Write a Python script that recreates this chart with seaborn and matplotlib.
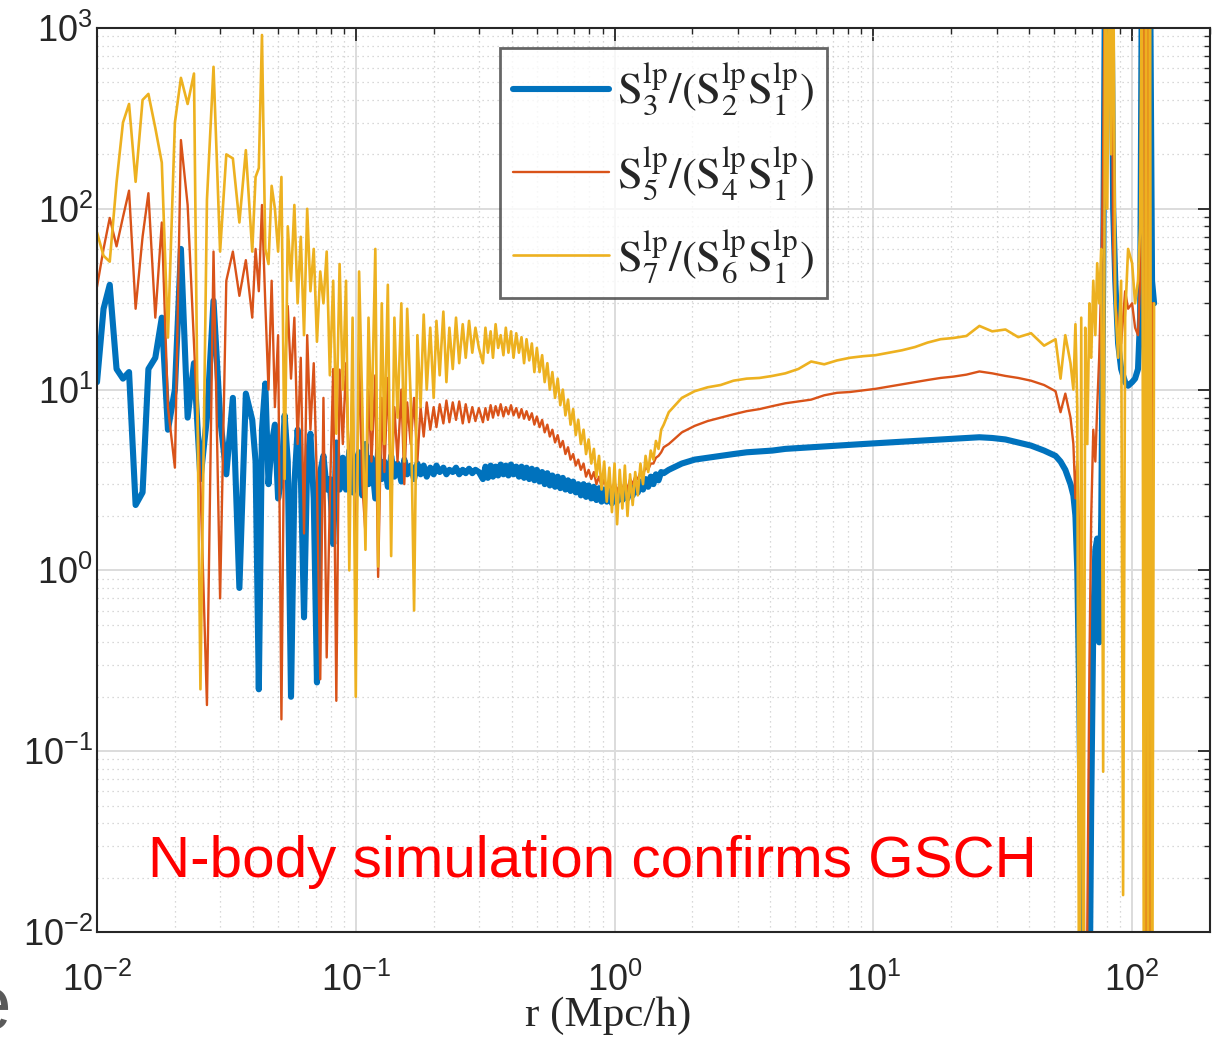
import matplotlib
matplotlib.use("Agg")
import matplotlib.pyplot as plt
from matplotlib.font_manager import FontProperties
from matplotlib.ticker import LogLocator, LogFormatterSciNotation, NullFormatter
import pandas as pd
import seaborn as sns

# ---------------- data ----------------
r_values = [
    # 0.01 - 0.04
    0.0100, 0.0106, 0.0112, 0.0119, 0.0126, 0.0133, 0.0141, 0.0150, 0.0158, 0.0168,
    0.0178, 0.0188, 0.0200, 0.0211, 0.0224, 0.0237, 0.0251, 0.0266, 0.0282, 0.0299,
    0.0316, 0.0335, 0.0355, 0.0376,
    # 0.04 - 0.1
    0.0398, 0.0410, 0.0422, 0.0434, 0.0447, 0.0460, 0.0473, 0.0487, 0.0501, 0.0516,
    0.0531, 0.0546, 0.0562, 0.0579, 0.0596, 0.0613, 0.0631, 0.0649, 0.0668, 0.0688,
    0.0708, 0.0729, 0.0750, 0.0772, 0.0794, 0.0818, 0.0841, 0.0866, 0.0891, 0.0917,
    0.0944, 0.0972, 0.1000,
    # 0.1 - 0.3
    0.103, 0.106, 0.109, 0.112, 0.115, 0.119, 0.122, 0.126, 0.129, 0.133,
    0.137, 0.141, 0.145, 0.150, 0.154, 0.158, 0.163, 0.168, 0.173, 0.178,
    0.183, 0.188, 0.194, 0.200, 0.205, 0.211, 0.218, 0.224, 0.230, 0.237,
    0.244, 0.251, 0.259, 0.266, 0.274, 0.282, 0.290, 0.299,
    # 0.3 - 1.6
    0.310, 0.317, 0.324, 0.332, 0.339, 0.347, 0.355, 0.363, 0.372, 0.380,
    0.389, 0.398, 0.407, 0.417, 0.427, 0.437, 0.447, 0.457, 0.468, 0.479,
    0.490, 0.501, 0.513, 0.525, 0.537, 0.550, 0.562, 0.575, 0.589, 0.603,
    0.617, 0.631, 0.646, 0.661, 0.676, 0.692, 0.708, 0.724, 0.741, 0.759,
    0.776, 0.794, 0.813, 0.832, 0.851, 0.871, 0.891, 0.912, 0.933, 0.955,
    0.977, 1.000, 1.023, 1.047, 1.072, 1.096, 1.122, 1.148, 1.175, 1.202,
    1.230, 1.259, 1.288, 1.318, 1.349, 1.380, 1.413, 1.445, 1.479, 1.514, 1.549,
    # 1.6 - 50
    1.62, 1.82, 2.04, 2.29, 2.57, 2.88, 3.24, 3.63, 4.07, 4.57,
    5.13, 5.75, 6.46, 7.24, 8.13, 9.12, 10.2, 11.5, 12.9, 14.5,
    16.2, 18.2, 20.4, 22.9, 25.7, 28.8, 32.4, 36.3, 40.7, 45.7,
    # 50 - 122
    50.6, 52.9, 55.2, 57.8, 59.3, 60.4, 61.4, 62.5, 63.6, 64.8,
    65.9, 67.1, 68.4, 69.5, 70.8, 72.1, 73.3, 74.6, 76.0, 77.3,
    78.7, 80.2, 81.6, 83.0, 84.5, 86.1, 88.3, 90.7, 92.3, 94.0,
    96.5, 100.0, 102.7, 105.4, 107.4, 109.2, 111.2, 113.2, 115.2, 117.2,
    119.4, 121.6,
]

s3_ratio = [
    11, 28, 38, 13, 11.5, 12.5, 2.3, 2.7, 13, 15,
    25, 6, 10, 60, 7, 14, 3.2, 7, 31, 7,
    3.4, 9.0, 0.8, 9.5,
    6.8, 4, 0.22, 6, 10.8, 3.0, 5, 6.4, 2.5, 3.2,
    7.2, 4, 0.2, 3, 6, 3.5, 0.55, 4, 5.7, 2.5,
    0.24, 3.5, 4.3, 2.8, 3.2, 1.4, 5.1, 2.8, 4.2, 2.8,
    4.6, 2.7, 4.0,
    4.5, 2.6, 5.0, 3.0, 4.2, 2.5, 4.6, 3.2, 4.0, 2.9,
    4.3, 3.3, 3.9, 3.1, 4.1, 3.4, 3.8, 3.2, 3.9, 3.4,
    3.8, 3.3, 3.7, 3.4, 3.8, 3.5, 3.7, 3.4, 3.6, 3.5,
    3.7, 3.4, 3.6, 3.45, 3.65, 3.45, 3.6, 3.5,
    3.2, 3.75, 3.25, 3.8, 3.3, 3.75, 3.35, 3.85, 3.4, 3.8,
    3.35, 3.85, 3.4, 3.75, 3.3, 3.75, 3.25, 3.7, 3.2, 3.65,
    3.15, 3.6, 3.1, 3.5, 3.0, 3.45, 2.95, 3.35, 2.9, 3.3,
    2.85, 3.25, 2.8, 3.15, 2.75, 3.1, 2.7, 3.0, 2.6, 3.0,
    2.55, 2.95, 2.5, 2.9, 2.45, 2.85, 2.4, 2.8, 2.4, 2.75,
    2.35, 2.75, 2.4, 2.8, 2.45, 2.85, 2.5, 2.9, 2.6, 3.0,
    2.7, 3.1, 2.8, 3.2, 2.9, 3.3, 3.0, 3.4, 3.15, 3.5, 3.45,
    3.6, 3.9, 4.1, 4.2, 4.3, 4.4, 4.5, 4.55, 4.6, 4.7,
    4.75, 4.8, 4.85, 4.9, 4.95, 5.0, 5.05, 5.1, 5.15, 5.2,
    5.25, 5.3, 5.35, 5.4, 5.45, 5.4, 5.3, 5.1, 4.9, 4.6,
    4.3, 4.0, 3.6, 3.0, 2.6, 2.0, 1.0, 0.2, 0.02, 0.001,
    0.001, 0.001, 0.003, 0.05, 0.5, 1.3, 1.5, 0.4, 2.0, 40,
    3000, 3000, 500, 3000, 100, 40, 18, 13, 12, 11,
    10.5, 11, 11.5, 13, 25, 3000, 3000, 200, 3000, 3000,
    40, 30,
]

s5_ratio = [
    37, 60, 89, 62, 90, 126, 28, 70, 122, 25,
    84, 8, 3.7, 240, 105, 18, 3, 0.18, 58, 0.7,
    40, 58, 33, 52,
    25, 60, 35, 105, 30, 10, 40, 8, 20, 0.15,
    12, 29, 11.5, 25, 5, 15, 1.6, 20, 6, 14,
    3, 0.25, 9, 0.33, 2.5, 13, 0.19, 12.9, 5, 14,
    3, 10, 0.79,
    16, 3, 1.6, 10, 4, 12, 0.92, 9, 3.5, 11.6,
    2.5, 8, 4, 10, 3, 8.5, 5, 9, 4, 8,
    5.5, 8.5, 6, 8, 6.2, 8.3, 6.5, 8.7, 6.6, 8.5,
    6.8, 8.6, 6.5, 8.3, 6.6, 8.0, 6.7, 7.9,
    6.6, 7.9, 6.8, 8.2, 7.0, 8.1, 7.2, 8.3, 7.1, 8.0,
    7.3, 8.2, 7.2, 7.9, 7.0, 7.8, 6.9, 7.6, 6.8, 7.4,
    6.4, 7.1, 6.2, 6.8, 5.8, 6.4, 5.5, 6.0, 5.1, 5.6,
    4.8, 5.2, 4.4, 4.8, 4.1, 4.4, 3.8, 4.1, 3.6, 3.9,
    3.3, 3.6, 3.2, 3.5, 3.0, 3.3, 2.9, 3.2, 2.8, 3.1,
    2.7, 3.1, 2.7, 3.0, 2.8, 3.1, 2.8, 3.2, 3.0, 3.3,
    3.2, 3.5, 3.4, 3.7, 3.6, 3.9, 3.9, 4.2, 4.3, 4.5, 4.8,
    5.0, 5.8, 6.3, 6.7, 7.0, 7.3, 7.6, 7.8, 8.1, 8.4,
    8.6, 8.8, 9.3, 9.6, 9.7, 9.9, 10.1, 10.4, 10.7, 11.0,
    11.3, 11.6, 11.8, 12.1, 12.6, 12.3, 11.9, 11.6, 11.2, 10.6,
    9.8, 7.5, 9.5, 7.0, 5.0, 2.5, 4.0, 1.5, 0.5, 0.05,
    0.001, 0.01, 0.3, 2, 6, 4, 8, 15, 40, 200,
    3000, 3000, 800, 3000, 60, 30, 22, 18, 25, 35,
    28, 30, 22, 20, 40, 3000, 3000, 0.001, 3000, 0.001,
    30, 30,
]

s7_ratio = [
    74, 55, 51, 140, 300, 380, 141, 400, 432, 280,
    180, 19.4, 300, 530, 380, 560, 0.22, 112, 610, 58,
    200, 190, 84, 211,
    58, 150, 168, 915, 60, 49.5, 134, 100, 58, 150,
    3.2, 80, 40, 105, 30, 70, 20, 100, 35, 60,
    18.4, 45, 30, 58, 12, 40, 5.7, 49.5, 10, 40,
    1.0, 25, 0.2,
    45, 8, 1.3, 25, 6, 60, 1.05, 30, 5, 38,
    1.2, 25, 7, 30, 4, 28, 9, 0.6, 20, 8,
    26, 10, 22, 9, 24, 12, 27, 11, 22, 13,
    25, 14, 23, 15, 24, 16, 22, 17,
    14, 22, 16, 21, 15, 23, 17, 20, 15.5, 22,
    16, 21, 15, 20.5, 16, 19.5, 14, 19, 14.5, 18,
    12.5, 17, 12.5, 15.5, 11, 14, 10, 12.5, 9.0, 11.5,
    8.2, 10, 7.2, 8.8, 6.4, 7.8, 5.6, 6.8, 5.0, 6.0,
    4.4, 5.3, 3.9, 4.7, 3.3, 4.3, 2.8, 4.0, 2.4, 3.7,
    2.1, 3.9, 1.8, 3.6, 2.2, 3.8, 2.0, 3.4, 2.3, 3.5,
    2.6, 3.9, 3.0, 4.3, 3.5, 4.6, 4.1, 5.2, 4.7, 6.0, 6.4,
    7.5, 9.0, 9.8, 10.3, 10.6, 11.2, 11.5, 11.6, 11.9, 12.3,
    13.0, 14.3, 13.8, 14.5, 15.0, 15.3, 15.5, 16.0, 16.5, 17.2,
    18.2, 19.0, 19.3, 19.8, 22.5, 21.0, 21.5, 19.5, 20.5, 17.5,
    19, 11.5, 20, 14, 10, 23, 8, 0.001, 25, 0.001,
    22, 5, 30, 15, 40, 20, 50, 30, 60, 0.077,
    3000, 100, 3000, 200, 3000, 30, 15, 40, 0.016, 25,
    60, 50, 30, 40, 80, 3000, 0.001, 3000, 0.001, 3000,
    0.001, 30,
]

legend_labels = [
    r"$\mathrm{S}_{3}^{\mathrm{lp}}/(\mathrm{S}_{2}^{\mathrm{lp}}\mathrm{S}_{1}^{\mathrm{lp}})$",
    r"$\mathrm{S}_{5}^{\mathrm{lp}}/(\mathrm{S}_{4}^{\mathrm{lp}}\mathrm{S}_{1}^{\mathrm{lp}})$",
    r"$\mathrm{S}_{7}^{\mathrm{lp}}/(\mathrm{S}_{6}^{\mathrm{lp}}\mathrm{S}_{1}^{\mathrm{lp}})$",
]
x_ticks = [1e-2, 1e-1, 1e0, 1e1, 1e2]
y_ticks = [1e-2, 1e-1, 1e0, 1e1, 1e2, 1e3]
x_label = "r (Mpc/h)"
note_text = "N-body simulation confirms GSCH"

df = pd.DataFrame({"r": r_values, "s3": s3_ratio, "s5": s5_ratio, "s7": s7_ratio})

# ---------------- style ----------------
sns.set_theme(style="white")
plt.rcParams["font.family"] = ["Liberation Sans", "DejaVu Sans"]
plt.rcParams["mathtext.fontset"] = "custom"
plt.rcParams["mathtext.rm"] = "Liberation Sans"
plt.rcParams["mathtext.it"] = "Liberation Sans:italic"
plt.rcParams["mathtext.bf"] = "Liberation Sans:bold"
plt.rcParams["axes.unicode_minus"] = False

ink = "#262626"
fig = plt.figure(figsize=(12.12, 10.44), dpi=100)
ax = fig.add_axes([97 / 1212, 112 / 1044, 1113 / 1212, 904 / 1044])

series = [("s3", "#0072BD", 4.4), ("s5", "#D95319", 1.7), ("s7", "#EDB120", 1.9)]
for (col, color, lw), lab in zip(series, legend_labels):
    sns.lineplot(data=df, x="r", y=col, ax=ax, color=color, linewidth=lw,
                 estimator=None, sort=False, label=lab)
for ln in ax.get_lines():
    ln.set_solid_joinstyle("round")

ax.set_xscale("log")
ax.set_yscale("log")
ax.set_xlim(1e-2, 200)
ax.set_ylim(1e-2, 1e3)
ax.set_xticks(x_ticks)
ax.set_yticks(y_ticks)
ax.xaxis.set_major_formatter(LogFormatterSciNotation())
ax.yaxis.set_major_formatter(LogFormatterSciNotation())
for axis in (ax.xaxis, ax.yaxis):
    axis.set_minor_locator(LogLocator(base=10, subs=[2, 3, 4, 5, 6, 7, 8, 9], numticks=50))
    axis.set_minor_formatter(NullFormatter())

ax.set_axisbelow(True)
ax.grid(True, which="major", color="#dcdcdc", linewidth=1.4, linestyle="-")
ax.grid(True, which="minor", color="#cccccc", linewidth=0.9, linestyle=(0, (1, 3)))

ax.tick_params(which="both", direction="in", top=True, right=True, color=ink,
               labelcolor=ink, labelsize=26)
ax.tick_params(which="major", length=9, width=1.3)
ax.tick_params(which="minor", length=4.5, width=1.0)
ax.tick_params(axis="x", which="major", pad=22)
ax.tick_params(axis="y", which="major", pad=3)
for sp in ax.spines.values():
    sp.set_visible(True)
    sp.set_color(ink)
    sp.set_linewidth(1.5)

ax.set_xlabel(x_label, fontsize=31, color=ink, family=["Liberation Serif", "DejaVu Serif"])
ax.xaxis.set_label_coords(0.459, -0.071)
ax.set_ylabel("")

leg_prop = FontProperties(family="Liberation Serif", size=32, math_fontfamily="stix")
leg = ax.legend(loc="upper left", bbox_to_anchor=(500 / 1212, 1 - 48 / 1044),
                bbox_transform=fig.transFigure, borderaxespad=0, prop=leg_prop,
                frameon=True, fancybox=False, handlelength=2.15, handletextpad=0.18,
                labelspacing=0.57, borderpad=0.3)
leg.get_frame().set_edgecolor("#404040")
leg.get_frame().set_linewidth(2.0)
for t in leg.get_texts():
    t.set_color(ink)

ax.text(0.0458, 0.0608, note_text, transform=ax.transAxes, color="#ff0000",
        fontsize=42, family=["Liberation Sans", "DejaVu Sans"], va="baseline", ha="left")

fig.text(-0.026, 0.014, "e", color="#5a5a5a", fontsize=55, va="baseline", ha="left",
         family=["Liberation Sans", "DejaVu Sans"])

fig.savefig("out.png", dpi=100)
